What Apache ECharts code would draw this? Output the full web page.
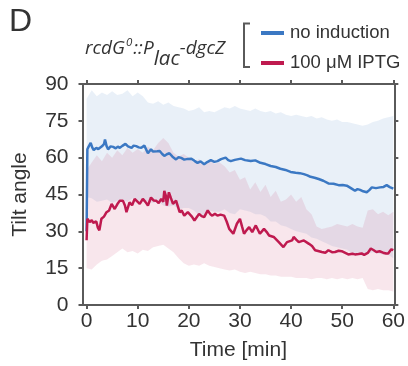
<!DOCTYPE html>
<html>
<head>
<meta charset="utf-8">
<script src="https://cdn.jsdelivr.net/npm/echarts@6/dist/echarts.min.js"></script>
<style>
html,body{margin:0;padding:0;background:#fff;}
#chart{width:408px;height:366px;}
</style>
</head>
<body>
<div id="chart"></div>
<script>
// ---- data ----
const xTicks = [0, 10, 20, 30, 40, 50, 60];
const yTicks = [0, 15, 30, 45, 60, 75, 90];

const noInductionTime = [0, 0.15, 0.4, 0.8, 1.1, 1.4, 1.9, 2.3, 2.6, 3.0, 3.4, 3.6, 3.9, 4.2, 4.7, 5.2, 5.7, 6.1, 6.5, 7.0, 7.6, 8.1, 8.8, 9.2, 9.7, 10.2, 10.7, 11.3, 11.6, 12.0, 12.6, 13.0, 13.3, 13.8, 14.3, 14.8, 15.2, 15.7, 16.2, 16.8, 17.5, 18.0, 18.5, 19.1, 19.8, 20.5, 21.1, 21.7, 22.3, 23.0, 23.6, 24.3, 25.0, 25.6, 26.3, 27.2, 27.7, 28.2, 29.0, 30.2, 31.0, 32.1, 33.0, 34.0, 35.0, 36.0, 37.0, 37.9, 38.9, 39.9, 40.9, 41.7, 42.5, 43.2, 43.8, 44.6, 45.4, 46.3, 47.3, 48.3, 49.3, 50.1, 50.9, 51.7, 52.5, 53.0, 53.5, 54.1, 54.8, 55.3, 55.8, 56.6, 57.4, 58.1, 58.7, 59.3, 60];
const noInductionTilt = [30, 63.4, 64.5, 66.0, 64.2, 63.1, 64.0, 63.5, 63.1, 64.6, 65.5, 67.4, 64.8, 63.4, 64.6, 64.4, 63.8, 64.5, 64.0, 64.8, 65.6, 64.6, 64.0, 64.9, 64.7, 64.2, 64.0, 64.9, 64.2, 61.8, 63.4, 62.5, 61.8, 62.6, 62.7, 61.5, 60.7, 61.4, 61.8, 60.4, 59.3, 60.2, 59.9, 59.2, 59.5, 59.6, 58.7, 57.9, 58.5, 57.3, 58.2, 59.0, 58.3, 58.6, 59.4, 60.0, 59.0, 58.6, 59.1, 59.6, 59.0, 58.6, 58.9, 57.9, 57.4, 56.6, 56.2, 55.5, 55.0, 54.2, 53.9, 53.7, 53.3, 52.8, 52.2, 51.8, 51.3, 50.6, 49.5, 49.4, 48.8, 48.9, 48.6, 47.6, 46.5, 47.2, 46.9, 46.3, 45.9, 46.8, 47.9, 47.6, 47.9, 48.1, 48.8, 48.0, 47.4];

const iptgTime = [0, 0.15, 0.6, 1.0, 1.3, 1.9, 2.2, 2.5, 2.9, 3.4, 3.9, 4.4, 4.9, 5.5, 6.0, 6.5, 7.1, 7.5, 7.8, 8.4, 8.9, 9.4, 10.0, 10.4, 11.0, 11.5, 12.0, 12.6, 13.1, 13.6, 14.1, 14.6, 15.0, 15.2, 15.5, 15.7, 16.1, 16.5, 16.9, 17.5, 18.2, 18.6, 19.1, 19.8, 20.1, 20.6, 21.1, 22.0, 22.5, 23.0, 23.7, 24.2, 24.6, 25.1, 25.6, 26.2, 26.9, 27.4, 27.9, 28.7, 29.4, 30.0, 30.4, 30.8, 31.3, 31.8, 32.4, 33.1, 33.9, 34.7, 35.2, 35.7, 36.6, 37.6, 38.5, 39.2, 40.2, 40.5, 41.0, 41.5, 42.5, 43.5, 44.1, 44.7, 45.3, 46.0, 46.7, 47.3, 48.0, 48.6, 49.3, 49.9, 50.6, 51.2, 52.0, 52.5, 53.2, 53.8, 54.3, 54.6, 55.0, 55.6, 56.1, 56.7, 57.3, 58.0, 58.6, 59.0, 59.3, 59.6, 60];
const iptgTilt = [26.4, 35.1, 33.8, 34.5, 33.5, 34.0, 31.5, 30.4, 35.1, 36.0, 37.8, 38.5, 41.2, 39.1, 41.0, 42.5, 42.5, 40.5, 37.8, 41.8, 40.6, 43.2, 42.0, 41.2, 43.2, 42.0, 40.5, 43.8, 42.6, 42.5, 41.5, 43.2, 42.0, 46.5, 44.5, 40.5, 45.9, 43.5, 41.2, 42.5, 37.8, 38.5, 36.4, 37.8, 37.2, 36.0, 34.4, 37.1, 36.2, 35.8, 38.5, 37.0, 36.4, 37.2, 36.4, 36.8, 36.4, 34.0, 31.0, 29.0, 33.1, 35.1, 32.0, 29.0, 30.5, 31.7, 29.7, 32.4, 29.0, 31.0, 29.8, 28.3, 27.7, 25.6, 23.6, 25.6, 26.3, 27.7, 26.6, 25.6, 26.3, 24.9, 24.0, 22.3, 22.0, 21.6, 21.3, 22.3, 21.5, 21.6, 22.1, 21.9, 21.2, 20.6, 20.9, 20.6, 20.8, 21.0, 20.4, 20.3, 21.2, 23.0, 22.4, 21.6, 21.9, 21.3, 21.0, 21.0, 21.4, 22.7, 22.3];

// shaded spread bands, sampled each minute 0..60
const bandTime = [0,1,2,3,4,5,6,7,8,9,10,11,12,13,14,15,16,17,18,19,20,21,22,23,24,25,26,27,28,29,30,31,32,33,34,35,36,37,38,39,40,41,42,43,44,45,46,47,48,49,50,51,52,53,54,55,56,57,58,59,60];
const noInductionUpper = [84, 87.5, 85, 86.5, 85.5, 87, 85.5, 86, 87.5, 85, 86.5, 85, 82.5, 82, 83, 81.5, 82.5, 81, 80.5, 80, 79, 79.5, 80.5, 78.5, 79, 78.5, 79.5, 80.5, 80, 81, 80, 79.5, 79, 80, 79, 78.5, 79, 78, 78.5, 77.5, 77, 77.5, 77, 76.5, 77, 76, 76.5, 75.5, 75, 75.5, 74.5, 74.5, 74, 73.5, 73, 73.5, 74.5, 75, 76, 76.5, 77];
const noInductionLower = [44, 43.5, 42, 42.5, 43, 41.5, 42.5, 43, 42, 43.5, 42.5, 43, 42, 41.5, 42, 40.5, 40, 40.5, 39, 39.5, 39.5, 38.5, 36.5, 36.5, 38.5, 38, 38, 39, 37.5, 37, 39, 38.5, 38, 37, 37, 36, 34, 34, 32.5, 32, 31, 30, 29.5, 29, 27.5, 27, 26, 25, 24, 23.5, 23, 22.5, 21, 20.5, 20, 21, 21.5, 21, 20.5, 20.5, 19];
const iptgUpper = [55, 58, 61, 58.5, 62, 60, 63, 61, 64, 62, 63.5, 62, 64.5, 63, 66, 68, 66, 62, 60.5, 61.5, 60, 58, 59.5, 57, 59, 57.5, 58, 56.5, 54, 55, 51, 52, 47, 50, 46, 49, 44, 46.5, 42, 43, 45, 42, 44, 39, 37, 32, 31, 31.5, 32, 33, 32.5, 32, 33, 32, 31.5, 38.5, 39, 37, 38, 36.5, 38];
const iptgLower = [15, 14.5, 16.5, 18, 18.5, 20, 21.5, 23, 21.5, 22, 21, 22.5, 22, 23.5, 24, 24.5, 23, 21.5, 19, 17, 16, 16.5, 16, 17, 16, 15.5, 15, 14.5, 14, 14.5, 13.5, 13, 13.5, 13, 12.5, 12.5, 12, 12, 11.5, 11.5, 11.5, 11, 11, 11, 10.5, 11, 11, 10.5, 11, 10.5, 11, 10.5, 11, 10.5, 11, 6.5, 6, 6.5, 6, 6, 5.5];

// ---- chart ----
const BLUE = '#3b78c3', RED = '#bf1a4f';
const AXIS = '#5a5a5a', TXT = '#333333';
const FONT = 'Liberation Sans, Arial, sans-serif';

function pairs(xs, ys) { return xs.map((x, i) => [x, ys[i]]); }

function bandSeries(name, lower, upper, color) {
  const data = bandTime.map((t, i) => [t, lower[i], upper[i]]);
  return {
    type: 'custom', name: name, z: 1, silent: true,
    data: data,
    encode: { x: 0, y: [1, 2] },
    renderItem: function (params, api) {
      if (params.dataIndex !== 0) return null;
      const pts = [];
      for (let i = 0; i < data.length; i++) pts.push(api.coord([data[i][0], data[i][2]]));
      for (let i = data.length - 1; i >= 0; i--) pts.push(api.coord([data[i][0], data[i][1]]));
      return { type: 'polygon', shape: { points: pts }, style: { fill: color, stroke: null } };
    }
  };
}

const chart = echarts.init(document.getElementById('chart'), null, { renderer: 'canvas' });
const axisCommon = {
  axisLine: { show: true, onZero: false, lineStyle: { color: AXIS, width: 2 } },
  axisTick: { show: true, inside: false, length: 4, lineStyle: { color: AXIS, width: 2 } },
  splitLine: { show: false }
};
chart.setOption({
  animation: false,
  backgroundColor: '#fff',
  grid: { left: 82.5, right: 12, top: 84, bottom: 59, containLabel: false },
  xAxis: [
    Object.assign({}, axisCommon, {
      type: 'value', position: 'bottom', min: -0.8, max: 60.2,
      name: 'Time [min]', nameLocation: 'middle', nameGap: 35,
      nameTextStyle: { fontFamily: FONT, fontSize: 21, color: TXT },
      axisTick: Object.assign({}, axisCommon.axisTick, { customValues: xTicks }),
      axisLabel: { customValues: xTicks, margin: 6, fontFamily: FONT, fontSize: 21, color: TXT }
    }),
    Object.assign({}, axisCommon, {
      type: 'value', position: 'top', min: -0.8, max: 60.2,
      axisTick: Object.assign({}, axisCommon.axisTick, { customValues: xTicks }),
      axisLabel: { show: false }
    })
  ],
  yAxis: [
    Object.assign({}, axisCommon, {
      type: 'value', position: 'left', min: 0, max: 90, interval: 15,
      name: 'Tilt angle', nameLocation: 'middle', nameGap: 52, nameRotate: 90,
      nameTextStyle: { fontFamily: FONT, fontSize: 21, color: TXT },
      axisLabel: { margin: 14, fontFamily: FONT, fontSize: 21, color: TXT,
        customValues: yTicks }
    }),
    Object.assign({}, axisCommon, {
      type: 'value', position: 'right', min: 0, max: 90, interval: 15,
      axisLabel: { show: false }
    })
  ],
  legend: {
    orient: 'vertical', left: 256, top: 18, itemGap: 10,
    itemWidth: 23, itemHeight: 4, icon: 'rect',
    data: ['no induction', '100 μM IPTG'],
    textStyle: { fontFamily: FONT, fontSize: 18.5, color: TXT, lineHeight: 20, padding: [0, 0, 0, 1] },
    selectedMode: false
  },
  graphic: [
    { type: 'text', left: 9, top: 6, style: { text: 'D', fontFamily: FONT, fontSize: 32, fill: TXT } },
    { type: 'polyline', shape: { points: [[250, 23.5], [244, 23.5], [244, 67], [250, 67]] },
      style: { stroke: AXIS, lineWidth: 2, fill: null } },
    { type: 'text', x: 85, y: 69,
      style: {
        text: '{m|rcdG}{sup|0}{m|::P}{sub|lac}{m|-dgcZ}',
        verticalAlign: 'bottom', fill: TXT,
        rich: {
          m: { fontFamily: 'Open Sans, sans-serif', fontStyle: 'italic', fontSize: 19, lineHeight: 20, padding: [0, 0, 11, 0], verticalAlign: 'bottom', fill: TXT },
          sup: { fontFamily: 'Open Sans, sans-serif', fontStyle: 'italic', fontSize: 11.5, lineHeight: 12, padding: [0, 1, 20, 1], verticalAlign: 'bottom', fill: TXT },
          sub: { fontFamily: 'Open Sans, sans-serif', fontStyle: 'italic', fontSize: 20.5, lineHeight: 22, padding: [0, 0, 0, 0], verticalAlign: 'bottom', fill: TXT }
        }
      }
    }
  ],
  series: [
    bandSeries('noInductionBand', noInductionLower, noInductionUpper, 'rgba(59,120,195,0.11)'),
    bandSeries('iptgBand', iptgLower, iptgUpper, 'rgba(191,26,79,0.11)'),
    { type: 'line', name: 'no induction', z: 3, data: pairs(noInductionTime, noInductionTilt),
      showSymbol: false, symbol: 'none', color: BLUE, lineStyle: { color: BLUE, width: 2.5 } },
    { type: 'line', name: '100 μM IPTG', z: 3, data: pairs(iptgTime, iptgTilt),
      showSymbol: false, symbol: 'none', color: RED, lineStyle: { color: RED, width: 2.5 } }
  ]
});
</script>
</body>
</html>
